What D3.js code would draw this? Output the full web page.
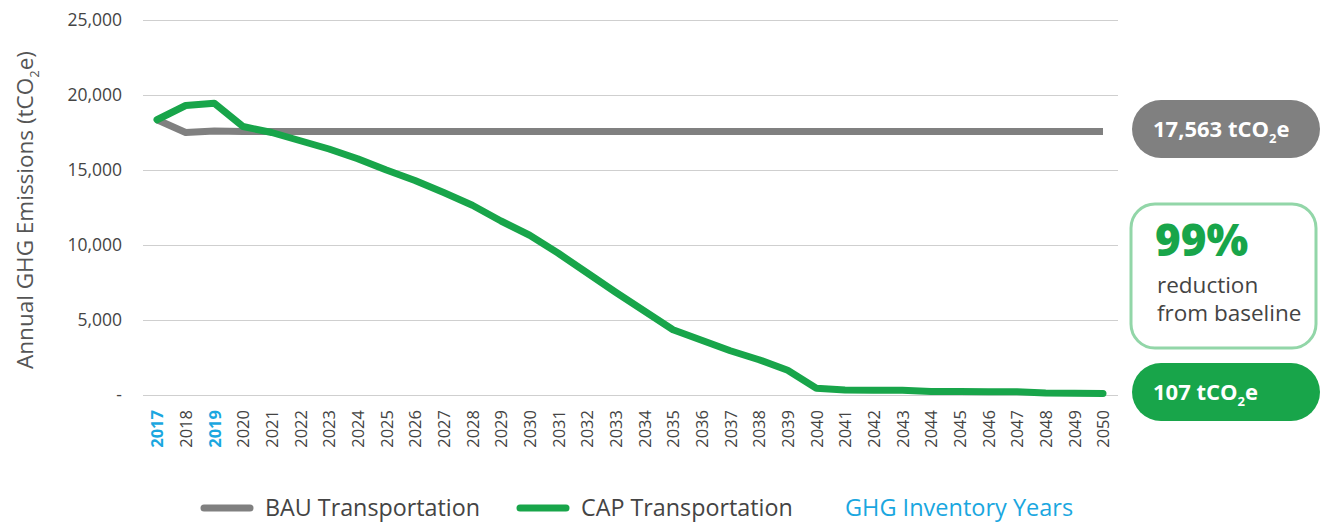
<!DOCTYPE html>
<html>
<head>
<meta charset="utf-8">
<script src="https://cdn.jsdelivr.net/npm/d3@7"></script>
<style>
  body { margin: 0; background: #fff; }
  text { font-family: "Open Sans", "DejaVu Sans", sans-serif; }
</style>
</head>
<body>
<script>
// years on the x axis
years = d3.range(2017, 2051)
inventoryYears = [2017, 2019]

// BAU Transportation (tCO2e)
bau = [18350, 17500, 17600, 17563, 17563, 17563, 17563, 17563, 17563, 17563,
       17563, 17563, 17563, 17563, 17563, 17563, 17563, 17563, 17563, 17563,
       17563, 17563, 17563, 17563, 17563, 17563, 17563, 17563, 17563, 17563,
       17563, 17563, 17563, 17563]

// CAP Transportation (tCO2e)
cap = [18350, 19300, 19450, 17900, 17500, 16950, 16400, 15750, 15000, 14300,
       13500, 12650, 11600, 10650, 9450, 8150, 6850, 5600, 4350, 3650,
       2950, 2350, 1650, 450, 330, 320, 310, 230, 230, 220,
       210, 130, 120, 107]

yTicks = [0, 5000, 10000, 15000, 20000, 25000]

legendItems = [
  {name: "BAU Transportation", color: "#808080"},
  {name: "CAP Transportation", color: "#18a54a"}
]

width = 1320
height = 523

const svg = d3.select("body").append("svg")
    .attr("width", width)
    .attr("height", height)

x = d3.scalePoint().domain(years).range([157, 1103])
y = d3.scaleLinear().domain([0, 25000]).range([395, 20])

// gridlines + y labels
svg.append("g")
    .attr("transform", "translate(143,0)")
    .call(d3.axisLeft(y).tickValues(yTicks).tickSize(-975)
      .tickFormat(d => d === 0 ? "-" : d3.format(",")(d)))
    .call(g => g.select(".domain").remove())
    .call(g => g.selectAll(".tick line").attr("stroke", "#cfcfcf").attr("stroke-width", 1.2))
    .call(g => g.selectAll(".tick text")
      .attr("x", -21)
      .attr("fill", "#444")
      .attr("font-size", 17.5)
      .attr("font-family", "'Open Sans', sans-serif"))

// y axis title with subscript
const yt = svg.append("text")
    .attr("transform", "translate(33,210) rotate(-90)")
    .attr("text-anchor", "middle")
    .attr("fill", "#555")
    .attr("font-size", 22.5)
yt.append("tspan").text("Annual GHG Emissions (tCO")
yt.append("tspan").attr("font-size", 13).attr("dy", 6).text("2")
yt.append("tspan").attr("dy", -6).text("e)")

// x labels
svg.append("g")
    .attr("transform", "translate(0,410)")
    .call(d3.axisBottom(x).tickSize(0))
    .call(g => g.select(".domain").remove())
    .call(g => g.selectAll(".tick text")
      .attr("transform", "rotate(-90)")
      .attr("x", 0)
      .attr("y", 0)
      .attr("dy", "0.35em")
      .attr("text-anchor", "end")
      .attr("font-size", 16.5)
      .attr("font-family", "'Open Sans', sans-serif")
      .attr("font-weight", d => inventoryYears.includes(d) ? 700 : 400)
      .attr("fill", d => inventoryYears.includes(d) ? "#1aa7e0" : "#444"))

line = d3.line().x((d, i) => x(years[i])).y(d => y(d))

svg.append("path")
    .datum(bau)
    .attr("fill", "none")
    .attr("stroke", "#808080")
    .attr("stroke-width", 7)
    .attr("stroke-linejoin", "round")
    .attr("d", line)

svg.append("path")
    .datum(cap)
    .attr("fill", "none")
    .attr("stroke", "#18a54a")
    .attr("stroke-width", 7)
    .attr("stroke-linejoin", "round")
    .attr("stroke-linecap", "round")
    .attr("d", line)

// right side callouts
function pill(yTop, h, fill, label) {
  svg.append("rect")
      .attr("x", 1132).attr("y", yTop)
      .attr("width", 188).attr("height", h)
      .attr("rx", 29).attr("fill", fill)
  const t = svg.append("text")
      .attr("x", 1153).attr("y", yTop + h / 2 + 8)
      .attr("fill", "#fff")
      .attr("font-size", 22)
      .attr("font-weight", 700)
  t.append("tspan").text(label + " tCO")
  t.append("tspan").attr("font-size", 13).attr("dy", 6).text("2")
  t.append("tspan").attr("dy", -6).text("e")
}
pill(100, 58, "#808080", "17,563")
pill(363, 58, "#18a54a", "107")

svg.append("rect")
    .attr("x", 1131).attr("y", 204)
    .attr("width", 185).attr("height", 144)
    .attr("rx", 24)
    .attr("fill", "#fff")
    .attr("stroke", "#92d6a8")
    .attr("stroke-width", 3)
svg.append("text")
    .attr("x", 1155).attr("y", 256)
    .attr("fill", "#18a54a")
    .attr("font-size", 44)
    .attr("font-weight", 800)
    .text("99%")
svg.append("text")
    .attr("x", 1157).attr("y", 293)
    .attr("fill", "#444")
    .attr("font-size", 22.5)
    .text("reduction")
svg.append("text")
    .attr("x", 1157).attr("y", 321)
    .attr("fill", "#444")
    .attr("font-size", 22.5)
    .text("from baseline")

// legend
const legend = svg.append("g").attr("transform", "translate(0,508)")
const rows = legend.selectAll("g")
  .data(legendItems)
  .join("g")
    .attr("transform", (d, i) => `translate(${[204, 520][i]},0)`)
rows.append("line")
    .attr("x1", 0).attr("x2", 46)
    .attr("stroke", d => d.color)
    .attr("stroke-width", 7)
    .attr("stroke-linecap", "round")
rows.append("text")
    .attr("x", 61)
    .attr("dy", "0.35em")
    .attr("fill", "#444")
    .attr("font-size", 23.3)
    .attr("font-family", "Roboto, sans-serif")
    .text(d => d.name)
legend.append("text")
    .attr("x", 845)
    .attr("dy", "0.35em")
    .attr("fill", "#1aa7e0")
    .attr("font-size", 23.5)
    .attr("font-family", "Roboto, sans-serif")
    .text("GHG Inventory Years")
</script>
</body>
</html>
